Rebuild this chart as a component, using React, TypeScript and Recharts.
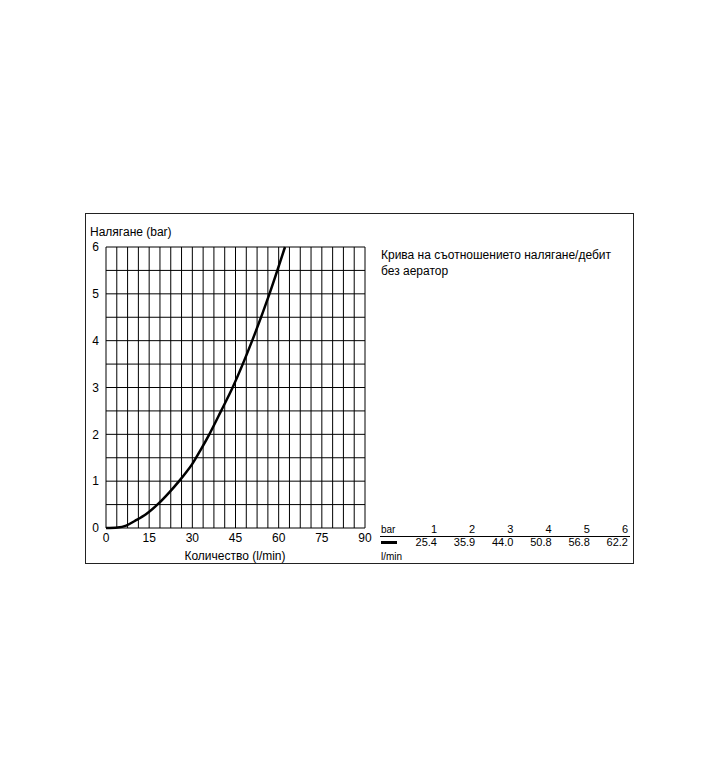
import React from "react";
import { LineChart, Line, XAxis, YAxis, ReferenceLine } from "recharts";

// flow / pressure values
const curveFlow = [0, 4, 7, 10, 14, 18.4, 22, 25.4, 28, 30, 33, 35.9, 40, 44, 50.8, 56.8, 62.2];
const curvePressure = [0, 0.01, 0.05, 0.15, 0.3, 0.53, 0.76, 1, 1.2, 1.37, 1.68, 2, 2.5, 3, 4, 5, 6];

// table under the description
const tableBar = [1, 2, 3, 4, 5, 6];
const tableFlow = ["25.4", "35.9", "44.0", "50.8", "56.8", "62.2"];

const flowTicks = [0, 15, 30, 45, 60, 75, 90];
const pressureTicks = [0, 1, 2, 3, 4, 5, 6];
const gridFlow = [
  0, 3.75, 7.5, 11.25, 15, 18.75, 22.5, 26.25, 30, 33.75, 37.5, 41.25, 45,
  48.75, 52.5, 56.25, 60, 63.75, 67.5, 71.25, 75, 78.75, 82.5, 86.25, 90,
];
const gridPressure = [0, 0.5, 1, 1.5, 2, 2.5, 3, 3.5, 4, 4.5, 5, 5.5, 6];

const data = curveFlow.map((q, i) => ({ q, p: curvePressure[i] }));

const font = "'Liberation Sans', Arial, sans-serif";
const tickStyle = { fill: "#000", fontSize: 12, fontFamily: font };

export default function App() {
  return (
    <div style={{ position: "relative", width: 704, height: 764, fontFamily: font, color: "#000" }}>
      <div
        style={{
          position: "absolute",
          left: 77,
          top: 205,
          width: 549,
          height: 351,
          border: "1px solid #222",
          boxSizing: "border-box",
        }}
      />
      <div style={{ position: "absolute", left: 82, top: 217, fontSize: 12, lineHeight: "14px" }}>
        Налягане (bar)
      </div>
      <div style={{ position: "absolute", left: 78, top: 206 }}>
        <LineChart width={290} height={349} data={data} margin={{ top: 33, right: 11, left: 0, bottom: 5 }}>
          <XAxis
            dataKey="q"
            type="number"
            domain={[0, 90]}
            ticks={flowTicks}
            axisLine={false}
            tickLine={false}
            tickSize={0}
            tickMargin={5}
            tick={tickStyle}
            height={30}
            interval={0}
          />
          <YAxis
            type="number"
            domain={[0, 6]}
            ticks={pressureTicks}
            axisLine={false}
            tickLine={false}
            tickSize={0}
            tickMargin={7}
            tick={tickStyle}
            width={20}
            interval={0}
          />
          {gridFlow.map((v) => (
            <ReferenceLine key={"x" + v} x={v} stroke="#000" strokeWidth={1} />
          ))}
          {gridPressure.map((v) => (
            <ReferenceLine key={"y" + v} y={v} stroke="#000" strokeWidth={1} />
          ))}
          <Line
            type="monotone"
            dataKey="p"
            stroke="#000"
            strokeWidth={2.5}
            dot={false}
            isAnimationActive={false}
          />
        </LineChart>
      </div>
      <div
        style={{
          position: "absolute",
          left: 127,
          width: 200,
          top: 541,
          textAlign: "center",
          fontSize: 12,
          lineHeight: "14px",
        }}
      >
        Количество (l/min)
      </div>
      <div style={{ position: "absolute", left: 373, top: 239, fontSize: 12, lineHeight: "16px" }}>
        Крива на съотношението налягане/дебит
        <br />
        без аератор
      </div>
      <div style={{ position: "absolute", left: 373, top: 516, fontSize: 10, lineHeight: "12px" }}>bar</div>
      {tableBar.map((b, i) => (
        <div
          key={"b" + b}
          style={{
            position: "absolute",
            left: 429 + i * 38.2 - 40,
            width: 40,
            textAlign: "right",
            top: 515,
            fontSize: 11,
            lineHeight: "13px",
          }}
        >
          {b}
        </div>
      ))}
      <div style={{ position: "absolute", left: 372, top: 528, width: 250, height: 1, background: "#000" }} />
      <div style={{ position: "absolute", left: 373, top: 533, width: 16, height: 3, background: "#000" }} />
      {tableFlow.map((f, i) => (
        <div
          key={"f" + i}
          style={{
            position: "absolute",
            left: 429 + i * 38.2 - 40,
            width: 40,
            textAlign: "right",
            top: 528,
            fontSize: 11,
            lineHeight: "13px",
          }}
        >
          {f}
        </div>
      ))}
      <div style={{ position: "absolute", left: 373, top: 543, fontSize: 10, lineHeight: "12px" }}>l/min</div>
    </div>
  );
}
